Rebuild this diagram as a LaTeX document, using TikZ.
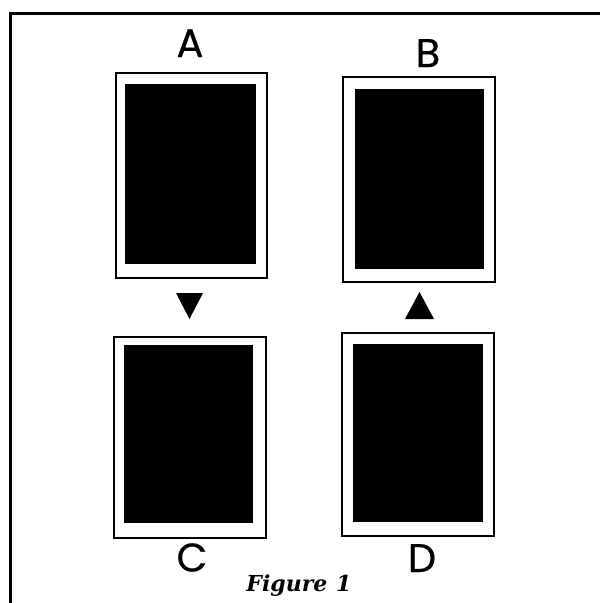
\documentclass[tikz,border=0pt]{standalone}
\usepackage{fontspec}
\newfontfamily\labfont[FakeBold=0.5]{Poppins}
\newfontfamily\capfont{DejaVu Serif}
\usetikzlibrary{positioning}
\tikzset{
  cardframe/.style={draw=black, line width=2pt, fill=white, inner sep=0pt},
  cardface/.style={fill=black, draw=none, inner sep=0pt},
  cardlabel/.style={font=\labfont\fontsize{40}{40}\selectfont, anchor=base, inner sep=0pt},
  marker/.style={fill=black, draw=none},
  frameline/.style={line width=3pt, draw=black},
}
\begin{document}
\begin{tikzpicture}[x=1pt, y=-1pt]
\useasboundingbox (0,0) rectangle (600,603);
% frame
\coordinate (fTL) at (10,13);
\coordinate (fTR) at (600,13);
\coordinate (fBL) at (10,603);
\draw[frameline] (fTR) -- (fTL) -- (fBL);
% cards
\node[cardframe, minimum width=151pt, minimum height=205pt] (A) at (191.5,175.5) {};
\node[cardface, minimum width=131pt, minimum height=180pt] (Ai) at (190.5,174) {};
\node[cardframe, minimum width=152pt, minimum height=205pt] (B) at (419,179.5) {};
\node[cardface, minimum width=129pt, minimum height=180pt] (Bi) at (419.5,179) {};
\node[cardframe, minimum width=152pt, minimum height=201pt] (C) at (190,437.5) {};
\node[cardface, minimum width=129pt, minimum height=178pt] (Ci) at (188.5,434) {};
\node[cardframe, minimum width=152pt, minimum height=203pt] (D) at (418,434.5) {};
\node[cardface, minimum width=130pt, minimum height=178pt] (Di) at (418,433) {};
% labels
\node[cardlabel] (la) at (190,57) {A};
\node[cardlabel] (lb) at (428,67) {B};
\node[cardlabel] (lc) at (192,571.5) {C};
\node[cardlabel] (ld) at (422,572) {D};
% markers
\coordinate (dn1) at (176,293);
\coordinate (dn2) at (203,293);
\coordinate (dn3) at (189.5,319);
\fill[marker] (dn1) -- (dn2) -- (dn3) -- cycle;
\coordinate (up1) at (405,319);
\coordinate (up2) at (434,319);
\coordinate (up3) at (419.5,292);
\fill[marker] (up1) -- (up2) -- (up3) -- cycle;
% caption
\node[anchor=base, inner sep=0pt, font=\capfont\bfseries\itshape\fontsize{22}{22}\selectfont] (cap) at (299,591) {Figure\hspace{0.4em}1};
\end{tikzpicture}
\end{document}
